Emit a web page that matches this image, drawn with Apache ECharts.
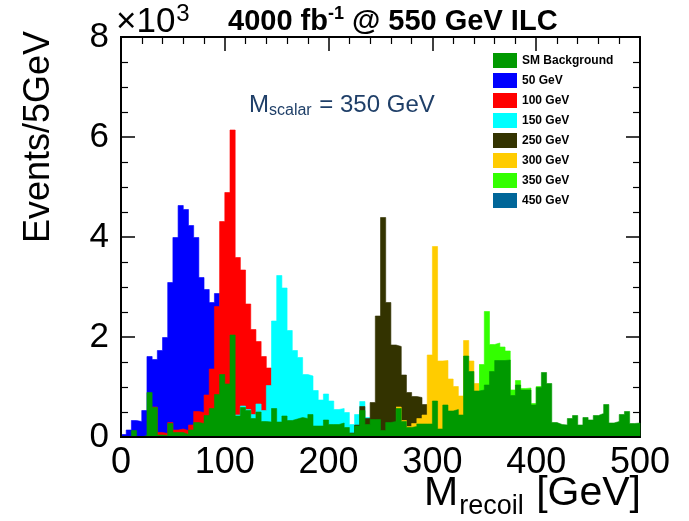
<!DOCTYPE html>
<html>
<head>
<meta charset="utf-8">
<script src="https://cdn.jsdelivr.net/npm/echarts@6/dist/echarts.min.js"></script>
<style>
  html, body { margin: 0; padding: 0; background: #ffffff; }
  #chart { width: 689px; height: 521px; }
</style>
</head>
<body>
<div id="chart"></div>
<script>
// Recoil-mass spectra, in units of 10^3 events per 5 GeV bin.
const binWidth = 5;                       // GeV
const xTickValues = [0, 100, 200, 300, 400, 500];
const yTickValues = [0, 2, 4, 6, 8];

// SM background, 100 bins from 0 to 500 GeV
const smBackground = [
  0.00, 0.00, 0.13, 0.00, 0.03, 0.89, 0.59, 0.04, 0.03, 0.27,
  0.09, 0.09, 0.05, 0.14, 0.29, 0.27, 0.43, 0.57, 0.85, 1.25,
  1.06, 2.04, 0.42, 0.59, 0.53, 0.37, 0.50, 0.31, 0.30, 0.57,
  0.30, 0.42, 0.33, 0.36, 0.39, 0.37, 0.45, 0.22, 0.22, 0.34,
  0.25, 0.25, 0.28, 0.19, 0.07, 0.22, 0.53, 0.25, 0.35, 0.35,
  0.13, 0.29, 0.31, 0.57, 0.31, 0.19, 0.21, 0.26, 0.26, 0.26,
  0.72, 0.16, 0.64, 0.52, 0.55, 0.44, 1.62, 1.31, 0.92, 0.94,
  1.04, 1.31, 1.53, 1.53, 1.54, 0.83, 1.04, 0.94, 0.94, 0.64,
  0.99, 1.29, 1.07, 0.29, 0.25, 0.24, 0.37, 0.43, 0.24, 0.39,
  0.34, 0.43, 0.47, 0.65, 0.28, 0.31, 0.45, 0.51, 0.27, 0.28
];

// Signal + background totals; each list starts at the given lower bin edge (GeV)
const sig50From = 0;
const sig50 = [0.05, 0.14, 0.33, 0.31, 0.53, 1.61, 1.55, 1.73, 1.99, 3.09,
               3.99, 4.63, 4.55, 4.23, 3.99, 3.19, 2.95, 2.69, 2.87];

const sig100From = 30;
const sig100 = [0.60, 0.09, 0.07, 0.29, 0.14, 0.16, 0.13, 0.24, 0.51, 0.49,
                0.84, 1.36, 2.61, 4.31, 4.89, 6.14, 3.59, 3.34, 2.66, 2.15,
                1.91, 1.61, 1.38];

const sig150From = 110;
const sig150 = [0.44, 0.62, 0.55, 0.45, 0.66, 0.53, 1.03, 2.32, 3.23, 2.98,
                2.13, 1.73, 1.59, 1.25, 1.22, 0.93, 0.74, 0.86, 0.72, 0.55,
                0.57, 0.49, 0.25, 0.45, 0.71, 0.39];

const sig250From = 220;
const sig250 = [0.08, 0.24, 0.61, 0.37, 0.69, 2.42, 4.39, 2.69, 1.84, 1.81,
                1.24, 0.89, 0.81, 0.79, 0.65];

const sig300From = 265;
const sig300 = [0.60, 0.33, 0.21, 0.27, 0.37, 0.44, 1.64, 3.81, 1.52, 1.53,
                1.16, 1.01, 0.82, 1.93, 1.52, 1.07];

const sig350From = 345;
const sig350 = [1.45, 2.51, 1.85, 1.88, 1.80, 1.72, 0.94, 1.13, 0.97, 0.98,
                0.67, 1.01];

// no excess above the SM background for this mass point
const sig450From = 0;
const sig450 = [];

// Turn a list of bin contents into step-line points (bin lower edges + closing edge)
function histPoints(from, values) {
  if (!values.length) return [];
  const pts = values.map((v, i) => [from + i * binWidth, v]);
  pts.push([from + values.length * binWidth, 0]);
  return pts;
}

const FONT = 'Liberation Sans';

function histSeries(name, color, from, values, z) {
  return {
    name: name,
    type: 'line',
    step: 'end',
    data: histPoints(from, values),
    xAxisIndex: 0,
    yAxisIndex: 0,
    showSymbol: false,
    symbol: 'none',
    silent: true,
    z: z,
    itemStyle: { color: color },
    lineStyle: { color: color, width: 0.6 },
    areaStyle: { color: color, opacity: 1 },
    animation: false
  };
}

const xMin = xTickValues[0], xMax = xTickValues[xTickValues.length - 1];
const yMin = yTickValues[0], yMax = yTickValues[yTickValues.length - 1];
const xStep = xTickValues[1] - xTickValues[0];
const yStep = yTickValues[1] - yTickValues[0];

function frameX(position, withLabels, z) {
  return {
    type: 'value', position: position, min: xMin, max: xMax, interval: xStep, z: z,
    axisLine: { show: true, onZero: false, lineStyle: { color: '#000', width: 2 } },
    axisTick: { show: true, inside: true, length: 14, lineStyle: { color: '#000', width: 1.5 } },
    minorTick: { show: true, splitNumber: 5, length: 7, lineStyle: { color: '#000', width: 1.2 } },
    splitLine: { show: false },
    minorSplitLine: { show: false },
    axisLabel: {
      show: withLabels, margin: 8, color: '#000', fontFamily: FONT, fontSize: 36,
      showMinLabel: true, showMaxLabel: true
    }
  };
}
function frameY(position, withLabels, z) {
  return {
    type: 'value', position: position, min: yMin, max: yMax, interval: yStep, z: z,
    axisLine: { show: true, onZero: false, lineStyle: { color: '#000', width: 2 } },
    axisTick: { show: true, inside: true, length: 14, lineStyle: { color: '#000', width: 1.5 } },
    minorTick: { show: true, splitNumber: 4, length: 7, lineStyle: { color: '#000', width: 1.2 } },
    splitLine: { show: false },
    minorSplitLine: { show: false },
    axisLabel: {
      show: withLabels, margin: 12, color: '#000', fontFamily: FONT, fontSize: 35,
      showMinLabel: true, showMaxLabel: true
    }
  };
}
function lineOnly(axis) {
  axis.axisTick = { show: false };
  axis.minorTick = { show: false };
  axis.axisLabel = { show: false };
  return axis;
}

const chart = echarts.init(document.getElementById('chart'), null, { renderer: 'canvas' });

chart.setOption({
  animation: false,
  backgroundColor: '#ffffff',
  grid: { left: 121, right: 49, top: 37, bottom: 84 },
  xAxis: [
    frameX('bottom', true, 1),
    frameX('top', false, 1),
    lineOnly(frameX('bottom', false, 30))
  ],
  yAxis: [
    frameY('left', true, 1),
    frameY('right', false, 1),
    lineOnly(frameY('left', false, 30))
  ],
  legend: {
    orient: 'vertical',
    left: 493,
    top: 53,
    padding: 0,
    icon: 'rect',
    itemWidth: 24,
    itemHeight: 15,
    itemGap: 5,
    selectedMode: false,
    textStyle: { fontFamily: FONT, fontWeight: 'bold', fontSize: 12, color: '#000' },
    data: ['SM Background', '50 GeV', '100 GeV', '150 GeV', '250 GeV', '300 GeV', '350 GeV', '450 GeV']
  },
  series: [
    histSeries('50 GeV',  '#0000ff', sig50From,  sig50,  2),
    histSeries('100 GeV', '#ff0000', sig100From, sig100, 3),
    histSeries('150 GeV', '#00ffff', sig150From, sig150, 4),
    histSeries('250 GeV', '#333300', sig250From, sig250, 5),
    histSeries('300 GeV', '#ffcc00', sig300From, sig300, 6),
    histSeries('350 GeV', '#33ff00', sig350From, sig350, 7),
    histSeries('450 GeV', '#006699', sig450From, sig450, 8),
    histSeries('SM Background', '#009900', 0, smBackground, 10)
  ],
  graphic: [
    {
      type: 'text', left: 116, top: 2, z: 50,
      style: {
        text: '{a|×10}{b|3}',
        rich: {
          a: { fontFamily: FONT, fontSize: 35, fill: '#000' },
          b: { fontFamily: FONT, fontSize: 24, fill: '#000', padding: [0, 0, 16, 1] }
        }
      }
    },
    {
      type: 'text', left: 228, top: 5, z: 50,
      style: {
        text: '{a|4000 fb}{b|-1}{a| @ 550 GeV ILC}',
        rich: {
          a: { fontFamily: FONT, fontWeight: 'bold', fontSize: 29, fill: '#000' },
          b: { fontFamily: FONT, fontWeight: 'bold', fontSize: 18, fill: '#000', padding: [0, 0, 16, 0] }
        }
      }
    },
    {
      type: 'text', x: 39, y: 137, rotation: Math.PI / 2, z: 50,
      style: {
        text: 'Events/5GeV', align: 'center', verticalAlign: 'middle',
        fontFamily: FONT, fontSize: 36, fill: '#000'
      }
    },
    {
      type: 'text', right: 48, top: 473, z: 50,
      style: {
        text: '{m|M}{s|recoil}{m| [GeV]}',
        rich: {
          m: { fontFamily: FONT, fontSize: 41, fill: '#000' },
          s: { fontFamily: FONT, fontSize: 27, fill: '#000', padding: [26, 1, 0, 1] }
        }
      }
    },
    {
      type: 'text', left: 249, top: 93, z: 50,
      style: {
        text: '{m|M}{s|scalar}{m| = 350 GeV}',
        rich: {
          m: { fontFamily: FONT, fontSize: 24, fill: '#1f3f68' },
          s: { fontFamily: FONT, fontSize: 16, fill: '#1f3f68', padding: [12, 1, 0, 0] }
        }
      }
    }
  ]
});
</script>
</body>
</html>
